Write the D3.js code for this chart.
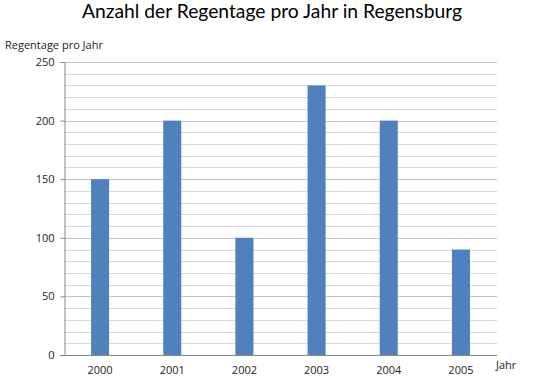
<!DOCTYPE html>
<html>
  <head>
    <meta charset="UTF-8" />
    <title>Regentage</title>
    <script src="https://d3js.org/d3.v7.min.js"></script>
    <style>
      body { margin: 0; background: #fff; }
      text { font-family: 'Open Sans', sans-serif; fill: #222; }
    </style>
  </head>
  <body>
    <div id="main"></div>
    <script type="text/javascript">
      const years = ['2000', '2001', '2002', '2003', '2004', '2005'];
      const rainDays = [150, 200, 100, 230, 200, 90];
      const yTicks = [0, 50, 100, 150, 200, 250];

      const width = 535;
      const height = 380;
      const margin = { top: 62, right: 38, bottom: 25, left: 64 };

      const svg = d3
        .select('div#main')
        .append('svg')
        .attr('width', width)
        .attr('height', height);

      const x = d3
        .scaleBand()
        .domain(years)
        .range([margin.left, width - margin.right])
        .paddingInner(0.75)
        .paddingOuter(0.375);

      const y = d3
        .scaleLinear()
        .domain([0, 250])
        .range([height - margin.bottom, margin.top]);

      // gridlines every 10
      svg
        .append('g')
        .selectAll('line')
        .data(d3.range(10, 251, 10))
        .join('line')
        .attr('x1', margin.left)
        .attr('x2', width - margin.right)
        .attr('y1', (d) => Math.round(y(d)) + 0.5)
        .attr('y2', (d) => Math.round(y(d)) + 0.5)
        .attr('stroke', (d) => (d % 50 === 0 ? '#c4c4c4' : '#d8d8d8'))
        .attr('stroke-width', 1);

      svg
        .append('g')
        .selectAll('rect')
        .data(rainDays)
        .join('rect')
        .attr('x', (d, i) => x(years[i]))
        .attr('y', (d) => y(d))
        .attr('width', x.bandwidth())
        .attr('height', (d) => y(0) - y(d))
        .attr('fill', '#4f81bd');

      const yAxis = svg
        .append('g')
        .attr('transform', `translate(${margin.left + 0.5},0)`)
        .call(d3.axisLeft(y).tickValues(yTicks).tickSize(4).tickPadding(6));
      yAxis.select('.domain').attr('stroke', '#888');
      yAxis.selectAll('.tick line').attr('stroke', '#888');
      yAxis.selectAll('text').attr('font-size', 11).style('fill', '#222');

      const xAxis = svg
        .append('g')
        .attr('transform', `translate(0,${Math.round(y(0)) + 0.5})`)
        .call(d3.axisBottom(x).tickSize(0).tickPadding(11));
      xAxis
        .select('.domain')
        .attr('stroke', '#888')
        .attr('d', `M${margin.left - 4},0H${width - margin.right}`);
      xAxis.selectAll('text').attr('font-size', 11).style('fill', '#222');

      svg
        .append('text')
        .attr('x', 272)
        .attr('y', 18)
        .attr('text-anchor', 'middle')
        .attr('font-size', 19)
        .attr('textLength', 380)
        .attr('lengthAdjust', 'spacingAndGlyphs')
        .style('font-family', 'Lato, sans-serif')
        .style('fill', '#000')
        .text('Anzahl der Regentage pro Jahr in Regensburg');

      svg
        .append('text')
        .attr('x', 5)
        .attr('y', 49)
        .attr('font-size', 11)
        .text('Regentage pro Jahr');

      svg
        .append('text')
        .attr('x', 496)
        .attr('y', 369)
        .attr('font-size', 11)
        .text('Jahr');
    </script>
  </body>
</html>
